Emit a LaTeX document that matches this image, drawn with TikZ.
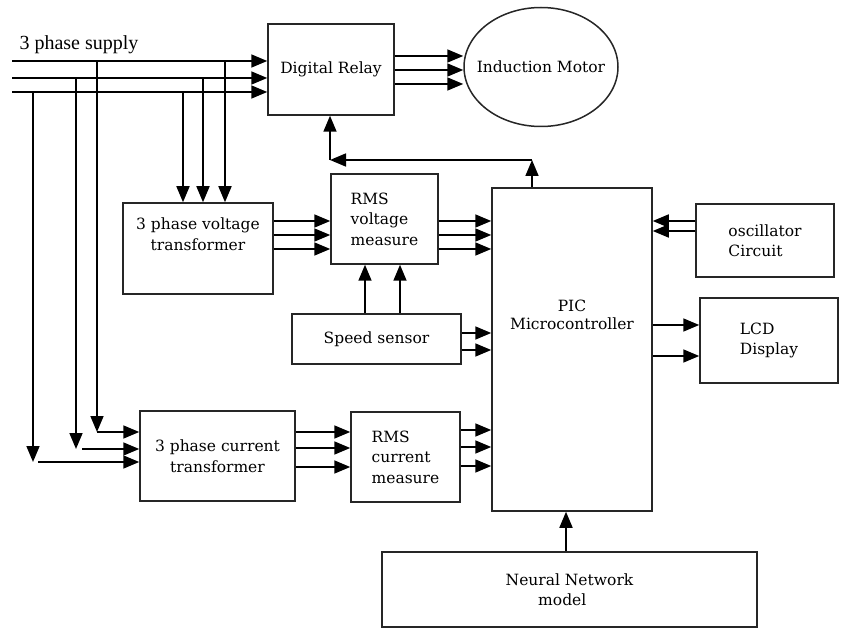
\documentclass[tikz,border=0pt]{standalone}
\usepackage{fontspec}
\setmainfont{DejaVu Serif}
\newfontfamily\supplyfont{Liberation Serif}
\usetikzlibrary{arrows.meta,shapes.geometric}
\begin{document}
\begin{tikzpicture}[x=1pt,y=-1pt,
	box/.style={draw=black!85,line width=1.5pt,inner sep=0pt,font=\fontsize{15.5}{20.5}\selectfont},
	arr/.style={-{Triangle[length=16pt,width=13pt]},line width=1.7pt},
	wire/.style={line width=1.7pt}]
	\useasboundingbox (0,0) rectangle (841,628);
	% blocks
	\node[box,minimum width=126,minimum height=91] (relay) at (331,69.5) {Digital Relay};
	\node[box,ellipse,minimum width=154,minimum height=119,
		label={[font=\fontsize{15.5}{20.5}\selectfont]center:Induction Motor}] (motor) at (541,67) {};
	\node[box,minimum width=150,minimum height=91,align=center] (vt) at (198,248.5) {3 phase voltage\\ transformer\\[8pt]};
	\node[box,minimum width=107,minimum height=90,align=left] (rmsv) at (384.5,219) {RMS\\voltage\\measure};
	\node[box,minimum width=169,minimum height=50] (speed) at (376.5,339) {Speed sensor};
	\node[box,minimum width=160,minimum height=323,
		label={[align=center,font=\fontsize{15.5}{18}\selectfont,yshift=35pt]center:PIC\\Microcontroller}] (pic) at (572,349.5) {};
	\node[box,minimum width=138,minimum height=73,align=left] (osc) at (765,240.5) {oscillator\\Circuit};
	\node[box,minimum width=138,minimum height=85,align=left] (lcd) at (769,340.5) {LCD\\Display};
	\node[box,minimum width=155,minimum height=90,align=center] (ct) at (217.5,456) {3 phase current\\ transformer};
	\node[box,minimum width=109,minimum height=90,align=left] (rmsc) at (405.5,457) {RMS\\current\\measure};
	\node[box,line width=2.8pt,minimum width=375,minimum height=75,align=left] (nn) at (569.5,589.5) {Neural Network\\\hspace{2.1em}model};
	\node[font=\supplyfont\fontsize{20}{22}\selectfont] (supply) at (79,45) {3 phase supply};

	% supply lines
	\coordinate (s1) at (12,61);
	\coordinate (s2) at (12,78);
	\coordinate (s3) at (12,92);
	\draw[arr] (s1) -- (relay.west |- s1);
	\draw[arr] (s2) -- (relay.west |- s2);
	\draw[arr] (s3) -- (relay.west |- s3);

	% taps to voltage transformer
	\coordinate (t1) at (225,61);
	\coordinate (t2) at (203,78);
	\coordinate (t3) at (183,92);
	\draw[arr] (t1) -- (t1 |- vt.north);
	\draw[arr] (t2) -- (t2 |- vt.north);
	\draw[arr] (t3) -- (t3 |- vt.north);

	% taps to current transformer
	\coordinate (c1) at (97,61);
	\coordinate (c2) at (76,78);
	\coordinate (c3) at (33,92);
	\coordinate (k1) at (97,432);
	\coordinate (k2) at (76,449);
	\coordinate (k3) at (33,462);
	\draw[arr] (c1) -- (k1);
	\draw[arr] (c2) -- (k2);
	\draw[arr] (c3) -- (k3);
	\draw[arr] (k1) -- (k1 -| ct.west);
	\draw[arr] ([xshift=6pt]k2) -- (k2 -| ct.west);
	\draw[arr] ([xshift=5pt]k3) -- (k3 -| ct.west);

	% relay to motor
	\foreach \yy in {56,70,84}
		\draw[arr] (relay.east |- 0,\yy) -- (motor.west |- 0,\yy);

	% voltage path
	\foreach \yy in {221,235,249}{
		\draw[arr] (vt.east |- 0,\yy) -- (rmsv.west |- 0,\yy);
		\draw[arr] (rmsv.east |- 0,\yy) -- (pic.west |- 0,\yy);
	}
	\draw[arr] (speed.north -| 365,0) -- (rmsv.south -| 365,0);
	\draw[arr] (speed.north -| 400,0) -- (rmsv.south -| 400,0);
	\draw[arr] (speed.east |- 0,333) -- (pic.west |- 0,333);
	\draw[arr] (speed.east |- 0,350) -- (pic.west |- 0,350);

	% current path
	\foreach \yy/\zz in {432/430,448/447,467/466}{
		\draw[arr] (ct.east |- 0,\yy) -- (rmsc.west |- 0,\yy);
		\draw[arr] (rmsc.east |- 0,\zz) -- (pic.west |- 0,\zz);
	}

	% controller feedback to relay
	\coordinate (fbr) at (532,160);
	\coordinate (fbl) at (330,160);
	\draw[arr] (pic.north -| fbr) -- (fbr);
	\draw[arr] (fbr) -- (fbl);
	\draw[arr] (fbl) -- (fbl |- relay.south);

	% oscillator, lcd, neural network
	\draw[arr] (osc.west |- 0,221) -- (pic.east |- 0,221);
	\draw[arr] (osc.west |- 0,231) -- (pic.east |- 0,231);
	\draw[arr] (pic.east |- 0,325) -- (lcd.west |- 0,325);
	\draw[arr] (pic.east |- 0,356) -- (lcd.west |- 0,356);
	\draw[arr] (nn.north -| 566,0) -- (pic.south -| 566,0);
\end{tikzpicture}
\end{document}
